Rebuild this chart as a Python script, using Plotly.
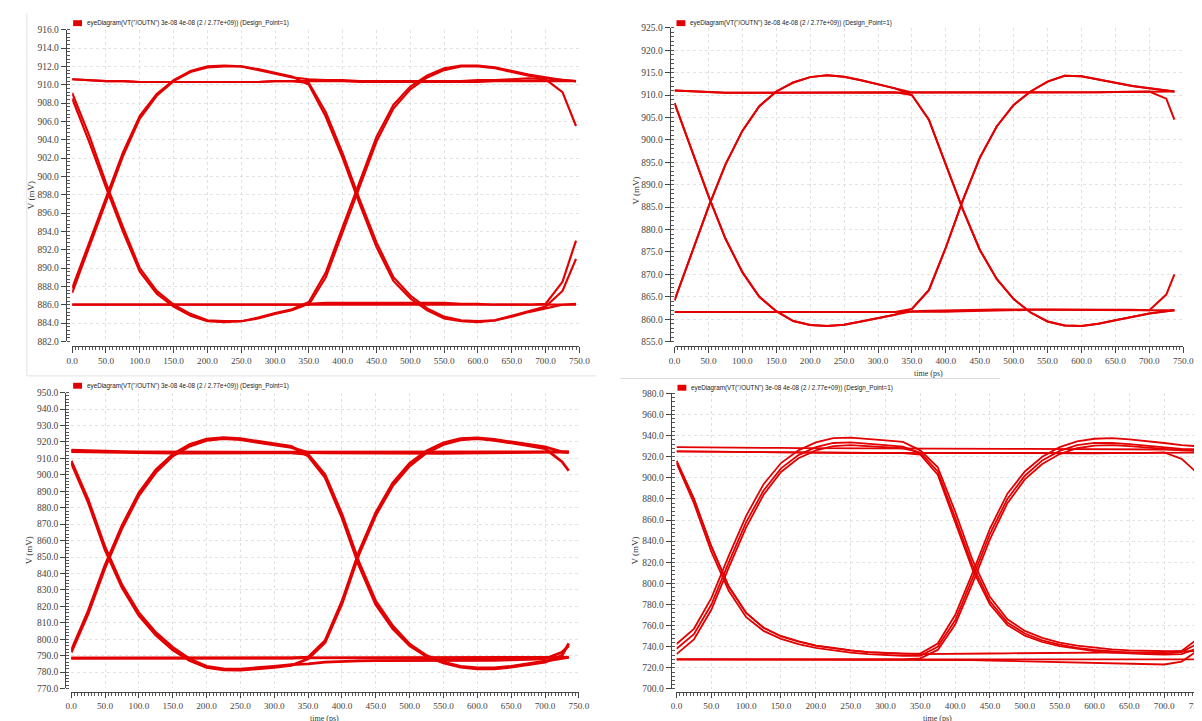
import plotly.graph_objects as go

W, H = 1202, 721
RED = '#e30000'
LEGEND_TEXT = 'eyeDiagram(VT("/OUTN") 3e-08 4e-08 (2 / 2.77e+09)) (Design_Point=1)'

# ---------------- time grids (ps) ----------------
t_first = [0, 25, 50, 75, 100, 125, 150, 175, 200, 225, 250, 275, 300, 325]
t_second_p1 = [350, 375, 400, 425, 450, 475, 500, 525, 550, 575, 600, 625, 650, 675, 700, 725, 745]
t_second_p2 = [350, 375, 400, 425, 450, 475, 500, 525, 550, 575, 600, 625, 650, 675, 700, 725, 737]
t_second_p3 = [350, 375, 400, 425, 450, 475, 500, 525, 550, 575, 600, 625, 650, 675, 700, 725, 735]
t_second_p4 = [350, 375, 400, 425, 450, 475, 500, 525, 550, 575, 600, 625, 650, 675, 700, 725, 745]

# ---------------- panel 1 (mV) ----------------
p1_high1 = [910.6, 910.5, 910.4, 910.4, 910.3, 910.3, 910.3, 910.3, 910.3, 910.3, 910.3, 910.3, 910.4, 910.4]
p1_low1 = [886.0, 886.0, 886.0, 886.0, 886.0, 886.0, 886.0, 886.0, 886.0, 886.0, 886.0, 886.0, 886.0, 886.0]
p1_fall1a = [909.1, 904.5, 899.3, 894.5, 890.0, 887.5, 886.0, 885.0, 884.3, 884.2, 884.2, 884.5, 885.0, 885.4]
p1_fall1b = [908.5, 903.8, 898.8, 894.0, 889.6, 887.2, 885.8, 884.8, 884.2, 884.1, 884.2, 884.6, 885.1, 885.5]
p1_rise1a = [887.8, 892.8, 897.8, 902.6, 906.6, 909.0, 910.5, 911.5, 912.0, 912.1, 912.0, 911.7, 911.3, 910.9]
p1_rise1b = [887.3, 892.2, 897.3, 902.2, 906.3, 908.8, 910.4, 911.4, 911.9, 912.0, 912.0, 911.6, 911.2, 910.8]
p1_high2 = [910.4, 910.4, 910.4, 910.3, 910.3, 910.3, 910.3, 910.3, 910.3, 910.3, 910.3, 910.4, 910.4, 910.4, 910.4, 910.4, 910.4]
p1_high2_drop = [910.6, 910.5, 910.5, 910.4, 910.4, 910.4, 910.4, 910.4, 910.4, 910.4, 910.5, 910.5, 910.6, 910.7, 910.6, 909.2, 905.5]
p1_low2 = [886.0, 886.0, 886.0, 886.0, 886.0, 886.0, 886.0, 886.0, 886.0, 886.0, 886.0, 886.0, 886.0, 886.0, 886.0, 886.0, 886.0]
p1_low2_rise = [886.1, 886.2, 886.2, 886.2, 886.2, 886.2, 886.2, 886.2, 886.2, 886.1, 886.1, 886.0, 886.0, 886.0, 886.1, 888.5, 893.0]
p1_fall2a = [910.2, 907.0, 902.5, 897.5, 892.8, 889.0, 887.0, 885.6, 884.7, 884.3, 884.2, 884.3, 884.7, 885.2, 885.6, 886.0, 886.1]
p1_fall2b = [910.0, 906.5, 902.0, 897.0, 892.3, 888.6, 886.7, 885.4, 884.5, 884.2, 884.1, 884.3, 884.8, 885.3, 885.8, 887.5, 891.0]
p1_rise2a = [886.3, 889.5, 894.5, 899.5, 904.3, 907.8, 909.8, 911.0, 911.8, 912.1, 912.1, 911.9, 911.5, 911.1, 910.8, 910.5, 910.4]
p1_rise2b = [886.0, 889.0, 894.0, 899.0, 903.8, 907.4, 909.5, 910.8, 911.6, 912.0, 912.0, 911.8, 911.4, 911.0, 910.7, 910.5, 910.4]
p1_traces = [(p1_high1, p1_high2), (p1_high1, p1_fall2a), (p1_low1, p1_low2), (p1_low1, p1_rise2b),
             (p1_fall1a, p1_low2_rise), (p1_fall1b, p1_rise2a), (p1_rise1a, p1_fall2b), (p1_rise1b, p1_high2_drop)]

# ---------------- panel 2 (mV) ----------------
p2_high1 = [911.0, 910.8, 910.6, 910.5, 910.5, 910.5, 910.5, 910.5, 910.5, 910.5, 910.5, 910.5, 910.6, 910.6]
p2_low1 = [861.6, 861.6, 861.6, 861.6, 861.6, 861.6, 861.6, 861.6, 861.6, 861.6, 861.6, 861.6, 861.6, 861.6]
p2_fall1 = [908.2, 898.0, 887.5, 878.0, 870.5, 865.0, 861.8, 859.6, 858.7, 858.5, 858.8, 859.5, 860.3, 861.0]
p2_rise1 = [864.2, 874.5, 885.0, 894.5, 902.0, 907.5, 910.8, 912.8, 914.0, 914.4, 914.1, 913.3, 912.4, 911.5]
p2_high2 = [910.6, 910.6, 910.6, 910.5, 910.5, 910.5, 910.5, 910.5, 910.6, 910.6, 910.6, 910.6, 910.7, 910.7, 910.8, 910.8, 910.8]
p2_high2_drop = [910.6, 910.6, 910.6, 910.5, 910.5, 910.5, 910.5, 910.5, 910.6, 910.6, 910.6, 910.6, 910.7, 910.7, 910.8, 909.2, 904.5]
p2_low2 = [861.8, 861.9, 862.0, 862.1, 862.2, 862.2, 862.2, 862.2, 862.2, 862.2, 862.2, 862.2, 862.1, 862.1, 862.0, 862.0, 862.0]
p2_low2_rise = [861.6, 861.6, 861.7, 861.8, 861.9, 862.0, 862.0, 862.1, 862.1, 862.1, 862.1, 862.1, 862.1, 862.0, 862.0, 865.5, 870.0]
p2_fall2 = [910.0, 904.5, 894.5, 884.5, 875.5, 869.0, 864.5, 861.5, 859.5, 858.6, 858.5, 859.0, 859.8, 860.6, 861.3, 861.8, 862.0]
p2_rise2 = [862.3, 866.5, 876.0, 886.5, 896.0, 903.0, 907.8, 910.8, 913.0, 914.3, 914.2, 913.5, 912.7, 912.0, 911.5, 911.0, 910.8]
p2_traces = [(p2_high1, p2_high2_drop), (p2_high1, p2_fall2), (p2_low1, p2_low2_rise), (p2_low1, p2_rise2),
             (p2_fall1, p2_low2), (p2_fall1, p2_rise2), (p2_rise1, p2_fall2), (p2_rise1, p2_high2)]

# ---------------- panel 3 (mV) ----------------
p3_high1a = [915.0, 914.6, 914.3, 914.1, 914.0, 913.9, 913.8, 913.8, 913.8, 913.8, 913.8, 913.8, 913.8, 913.8]
p3_high1b = [914.2, 914.0, 913.6, 913.4, 913.3, 913.2, 913.2, 913.2, 913.2, 913.2, 913.2, 913.2, 913.3, 913.4]
p3_low1 = [788.5, 788.5, 788.5, 788.5, 788.5, 788.5, 788.5, 788.5, 788.5, 788.5, 788.5, 788.5, 788.5, 788.5]
p3_fall1a = [908.5, 885.0, 856.0, 833.0, 816.0, 804.0, 795.0, 788.0, 783.5, 782.0, 781.8, 782.5, 783.5, 784.5]
p3_fall1b = [907.5, 883.5, 854.5, 831.5, 814.5, 802.5, 793.5, 787.0, 782.8, 781.3, 781.2, 781.8, 782.8, 784.0]
p3_rise1a = [793.0, 817.0, 845.0, 869.0, 889.0, 903.0, 912.5, 918.5, 921.8, 922.6, 922.0, 920.5, 918.8, 917.3]
p3_rise1b = [792.0, 815.5, 843.5, 867.5, 887.5, 901.5, 911.5, 917.5, 921.0, 922.0, 921.4, 920.0, 918.2, 916.7]
p3_high2a = [913.8, 913.8, 913.7, 913.6, 913.5, 913.5, 913.5, 913.6, 913.6, 913.7, 913.8, 913.9, 914.0, 914.1, 914.2, 914.2, 914.0]
p3_high2b = [913.5, 913.4, 913.3, 913.2, 913.1, 913.0, 913.0, 913.0, 913.1, 913.2, 913.3, 913.4, 913.5, 913.6, 913.8, 914.0, 914.0]
p3_fall2a = [912.5, 900.0, 876.0, 847.0, 823.0, 808.0, 797.0, 790.0, 786.0, 783.5, 782.5, 782.5, 783.5, 785.0, 786.5, 788.0, 789.0]
p3_fall2b = [911.5, 898.5, 874.0, 845.0, 821.0, 806.5, 796.0, 789.5, 785.5, 783.0, 782.0, 782.0, 783.0, 784.5, 786.0, 790.0, 797.5]
p3_low2 = [788.5, 788.5, 788.5, 788.5, 788.5, 788.5, 788.5, 788.5, 788.5, 788.5, 788.5, 788.5, 788.6, 788.7, 788.8, 788.9, 789.0]
p3_low2b = [785.0, 786.0, 786.5, 786.8, 787.0, 787.0, 787.0, 787.0, 787.0, 787.0, 787.0, 787.2, 787.5, 787.8, 788.0, 792.0, 796.0]
p3_rise2a = [789.0, 799.0, 823.0, 853.0, 877.0, 895.0, 907.0, 914.5, 919.5, 922.0, 922.5, 921.5, 920.0, 918.5, 917.0, 914.0, 913.5]
p3_rise2b = [788.0, 798.0, 821.5, 851.5, 875.5, 893.5, 905.5, 913.5, 918.5, 921.3, 922.0, 921.0, 919.5, 917.8, 916.0, 908.0, 902.5]
p3_traces = [(p3_high1a, p3_high2a), (p3_high1b, p3_fall2a), (p3_low1, p3_low2), (p3_low1, p3_rise2a),
             (p3_fall1a, p3_low2b), (p3_fall1b, p3_rise2b), (p3_rise1a, p3_fall2b), (p3_rise1b, p3_high2b)]

# ---------------- panel 4 (mV) ----------------
p4_high1a = [929.0, 929.0, 928.8, 928.6, 928.5, 928.4, 928.3, 928.2, 928.2, 928.1, 928.0, 928.0, 927.9, 927.8]
p4_high1b = [925.0, 924.8, 924.6, 924.4, 924.2, 924.0, 924.0, 923.8, 923.8, 923.6, 923.6, 923.5, 923.5, 923.5]
p4_low1 = [728.0, 728.0, 728.0, 728.0, 728.0, 728.0, 728.0, 728.0, 728.0, 728.0, 728.0, 728.0, 728.0, 728.0]
p4_fall1a = [916.0, 880.0, 835.0, 797.0, 772.0, 758.0, 750.0, 745.0, 741.0, 738.5, 736.5, 735.0, 734.0, 733.5]
p4_fall1b = [914.0, 876.0, 830.0, 793.0, 768.0, 755.0, 747.5, 742.5, 739.0, 736.5, 734.5, 733.0, 732.0, 731.5]
p4_rise1a = [742.5, 757.0, 786.0, 826.0, 864.0, 894.0, 914.0, 926.0, 933.5, 937.5, 938.0, 937.0, 935.5, 934.0]
p4_rise1b = [738.0, 752.0, 780.0, 820.0, 858.0, 888.0, 909.0, 921.5, 929.0, 933.0, 933.5, 932.5, 931.0, 929.5]
p4_rise1c = [733.0, 747.0, 775.0, 815.0, 853.0, 884.0, 905.5, 918.5, 926.0, 930.0, 931.0, 930.0, 929.0, 928.0]
p4_high2a = [927.8, 927.8, 927.7, 927.6, 927.5, 927.5, 927.4, 927.4, 927.3, 927.2, 927.2, 927.1, 927.0, 927.0, 926.8, 926.6, 926.5]
p4_high2b = [923.5, 923.5, 923.4, 923.4, 923.3, 923.3, 923.2, 923.2, 923.2, 923.2, 923.2, 923.3, 923.4, 923.5, 923.6, 923.7, 923.8]
p4_high2b_drop = [923.5, 923.5, 923.4, 923.4, 923.3, 923.3, 923.2, 923.2, 923.2, 923.2, 923.2, 923.3, 923.4, 923.6, 924.0, 918.0, 906.0]
p4_fall2a = [926.0, 910.0, 868.0, 822.0, 787.0, 766.0, 755.0, 748.5, 744.0, 741.0, 739.0, 737.5, 736.5, 736.0, 735.5, 735.5, 736.0]
p4_fall2b = [924.0, 906.0, 862.0, 817.0, 783.0, 763.0, 752.5, 746.0, 742.0, 739.0, 737.0, 735.5, 734.5, 734.0, 733.5, 735.0, 742.0]
p4_fall2c = [922.0, 903.0, 858.0, 813.0, 780.0, 760.5, 750.5, 744.5, 740.5, 738.0, 736.0, 734.5, 733.5, 733.0, 732.5, 733.0, 738.0]
p4_low2a = [728.0, 727.8, 727.6, 727.4, 727.0, 726.6, 726.2, 725.8, 725.4, 725.0, 724.6, 724.2, 723.8, 723.4, 723.2, 726.0, 735.0]
p4_low2b = [733.0, 733.0, 733.2, 733.4, 733.6, 733.8, 734.0, 734.2, 734.4, 734.6, 734.8, 735.0, 735.0, 735.0, 735.0, 736.0, 746.0]
p4_low2c = [728.0, 728.0, 728.0, 728.0, 728.0, 728.0, 728.0, 728.0, 728.0, 728.0, 728.0, 728.0, 728.0, 728.0, 728.0, 728.0, 728.0]
p4_rise2a = [733.5, 743.0, 770.0, 810.0, 852.0, 885.0, 906.0, 920.0, 929.0, 934.5, 937.0, 937.5, 936.5, 935.0, 933.0, 931.0, 930.0]
p4_rise2b = [731.5, 740.0, 765.0, 805.0, 847.0, 880.0, 902.0, 916.5, 925.5, 931.0, 933.0, 933.0, 932.0, 930.5, 929.0, 927.5, 927.0]
p4_rise2c = [729.0, 737.0, 761.0, 800.0, 842.0, 876.0, 898.5, 913.0, 922.5, 928.0, 930.5, 931.0, 930.0, 929.0, 927.5, 926.0, 925.5]
p4_traces = [(p4_high1a, p4_high2a), (p4_high1b, p4_high2b_drop), (p4_high1b, p4_fall2c), (p4_low1, p4_low2a),
             (p4_low1, p4_low2c), (p4_low1, p4_rise2c), (p4_fall1a, p4_low2b), (p4_fall1b, p4_rise2b),
             (p4_rise1a, p4_fall2a), (p4_rise1b, p4_high2b), (p4_rise1c, p4_fall2b), (p4_fall1a, p4_rise2a)]

# ---------------- layout geometry (pixels) ----------------
panels = [
    dict(traces=p1_traces, t2=t_second_p1, yr=[882, 916], dt=2, mdt=0.4, px=(59, 573.5), py=(17, 333),
         yline=52.5, xline=338, tl=6, lw=2.2, leg=(60, 10.3), ytitle=(18, 185), xtitle=None, allow=False),
    dict(traces=p2_traces, t2=t_second_p2, yr=[855, 925], dt=5, mdt=1, px=(670, 1186), py=(15, 333.3),
         yline=665, xline=338, tl=6, lw=2.0, leg=(672, 10.3), ytitle=(630, 180), xtitle=(928, 366), allow=False),
    dict(traces=p3_traces, t2=t_second_p3, yr=[770, 950], dt=10, mdt=2, px=(58, 573), py=(385, 685),
         yline=52, xline=689, tl=5, lw=2.8, leg=(60, 378), ytitle=(16, 545), xtitle=(315, 715.5), allow=False),
    dict(traces=p4_traces, t2=t_second_p4, yr=[700, 980], dt=20, mdt=4, px=(672, 1202), py=(385.7, 685.5),
         yline=666, xline=689, tl=5, lw=1.8, leg=(673, 380), ytitle=(630, 545), xtitle=(937, 715.5), allow=True),
]

SERIF = 'Liberation Serif'
fig = go.Figure()
layout = dict(width=W, height=H, margin=dict(l=0, r=0, t=0, b=0), paper_bgcolor='white',
              plot_bgcolor='white', showlegend=False)
annotations, shapes = [], []

for i, p in enumerate(panels, start=1):
    sfx = '' if i == 1 else str(i)
    tt = t_first + p['t2']
    for first, second in p['traces']:
        fig.add_trace(go.Scatter(x=tt, y=first + second, mode='lines',
                                 line=dict(color=RED, width=p['lw']),
                                 xaxis='x' + sfx, yaxis='y' + sfx, hoverinfo='skip'))
    xdom = [p['px'][0] / W, min(p['px'][1] / W, 1.0)]
    ydom = [1 - p['py'][1] / H, 1 - p['py'][0] / H]
    layout['xaxis' + sfx] = dict(
        domain=xdom, range=[0, 750], anchor='free', position=1 - p['xline'] / H,
        showline=True, linecolor='#444', linewidth=1, ticks='outside', ticklen=p['tl'], tickcolor='#444',
        tick0=0, dtick=50, tickformat='.1f',
        tickfont=dict(family=SERIF, size=9.2, color='#444'),
        showgrid=True, gridcolor='#e2e2e2', griddash='dot', gridwidth=1, zeroline=False,
        minor=dict(dtick=5, ticks='outside', ticklen=3, tickcolor='#555', showgrid=False),
        ticklabeloverflow='allow' if p['allow'] else 'hide past div',
    )
    layout['yaxis' + sfx] = dict(
        domain=ydom, range=p['yr'], anchor='free', position=p['yline'] / W,
        showline=True, linecolor='#444', linewidth=1, ticks='outside', ticklen=5, tickcolor='#444',
        dtick=p['dt'], tickformat='.1f',
        tickfont=dict(family=SERIF, size=9.5, color='#444'),
        showgrid=True, gridcolor='#e2e2e2', griddash='dot', gridwidth=1, zeroline=False,
        minor=dict(dtick=p['mdt'], ticks='inside', ticklen=3, tickcolor='#555', showgrid=False),
    )
    # legend entry
    lx, ly = p['leg']
    shapes.append(dict(type='rect', xref='paper', yref='paper', x0=lx / W, x1=(lx + 9) / W,
                       y0=1 - (ly + 3) / H, y1=1 - (ly - 3) / H, fillcolor=RED, line=dict(width=0)))
    annotations.append(dict(text=LEGEND_TEXT, xref='paper', yref='paper', x=(lx + 12) / W, y=1 - ly / H,
                            xanchor='left', yanchor='middle', showarrow=False,
                            font=dict(family='Liberation Sans', size=6.3, color='#222')))
    tx, ty = p['ytitle']
    annotations.append(dict(text='V (mV)', xref='paper', yref='paper', x=tx / W, y=1 - ty / H,
                            xanchor='center', yanchor='middle', showarrow=False, textangle=-90,
                            font=dict(family=SERIF, size=9, color='#333')))
    if p['xtitle']:
        tx, ty = p['xtitle']
        annotations.append(dict(text='time (ps)', xref='paper', yref='paper', x=tx / W, y=1 - ty / H,
                                xanchor='center', yanchor='middle', showarrow=False,
                                font=dict(family=SERIF, size=8, color='#333')))

# light panel frame lines
shapes.append(dict(type='line', xref='paper', yref='paper', x0=13 / W, x1=13 / W, y0=1 - 368 / H, y1=1,
                   line=dict(color='#e2e2e2', width=1)))
shapes.append(dict(type='line', xref='paper', yref='paper', x0=13 / W, x1=590 / W, y0=1 - 368 / H, y1=1 - 368 / H,
                   line=dict(color='#e2e2e2', width=1)))
shapes.append(dict(type='line', xref='paper', yref='paper', x0=615 / W, x1=1000 / W, y0=1 - 370.5 / H, y1=1 - 370.5 / H,
                   line=dict(color='#d8d8d8', width=1)))

layout['annotations'] = annotations
layout['shapes'] = shapes
fig.update_layout(**layout)
fig.write_html('out.html')
